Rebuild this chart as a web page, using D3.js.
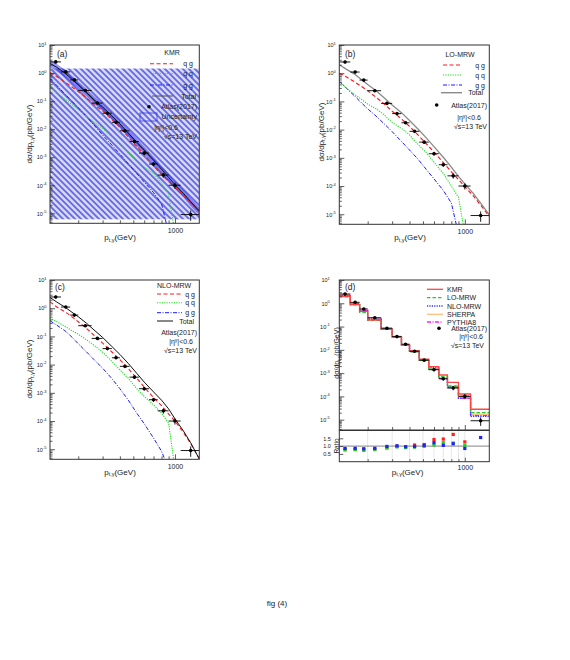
<!DOCTYPE html>
<html><head><meta charset="utf-8">
<script src="https://cdn.jsdelivr.net/npm/d3@7"></script>
<style>body{margin:0;background:#fff}svg{display:block}text{font-family:"Liberation Sans",Arial,sans-serif}</style>
</head><body><svg id="c" width="570" height="660"></svg>
<script>
// ---------------- data ----------------
const ptDomain = [125, 1500];
const binEdges = [125,150,175,200,250,300,350,400,470,550,650,750,900,1100,1500];
const atlasValues = [2.5,1.1,0.57,0.24,0.085,0.037,0.0175,0.0087,0.0036,0.0014,0.00057,0.00023,0.0001,0.000009];
const atlasErrRel = [0.12,0.1,0.1,0.1,0.1,0.1,0.1,0.1,0.12,0.14,0.16,0.2,0.25,0.4];
const ptGrid = [125,140,160,180,200,230,260,300,350,400,460,530,600,700,800,900,1000,1150,1300,1500];
// (a) KMR
const kmrQG = [1.05,0.75,0.48,0.32,0.22,0.13,0.075,0.045,0.022,0.0115,0.0052,0.0024,0.00122,0.0005,0.00024,0.000135,0.000085,0.000045,0.000025,0.000012];
const kmrQQ = [0.35,0.2,0.12,0.075,0.05,0.028,0.018,0.0105,0.0052,0.0028,0.0015,0.00075,0.00045,0.00026,0.00012,0.00005,0.000002,null,null,null];
const kmrGG = [0.65,0.36,0.18,0.1,0.058,0.028,0.014,0.0062,0.0027,0.0013,0.00058,0.00026,0.00013,0.000055,0.000022,0.000002,null,null,null,null];
const kmrTotal = [2.2,1.6,1.0,0.6,0.38,0.2,0.11,0.062,0.03,0.0155,0.0073,0.0034,0.0018,0.00078,0.00037,0.00019,0.000105,0.000052,0.000026,0.000012];
const kmrBandLo = [1.6,1.15,0.72,0.43,0.27,0.145,0.08,0.045,0.022,0.011,0.0052,0.0024,0.0013,0.00055,0.00026,0.000135,0.000074,0.000037,0.000018,0.0000085];
const kmrBandHi = [2.9,2.1,1.3,0.8,0.5,0.27,0.15,0.083,0.04,0.021,0.0098,0.0046,0.0024,0.00105,0.0005,0.00026,0.00014,0.00007,0.000035,0.000016];
const kmrHatchRange = [6.1e-6, 1.45];
// (b) LO-MRW
const loQG = [1.0,0.75,0.5,0.34,0.24,0.14,0.085,0.045,0.024,0.013,0.0065,0.0031,0.0016,0.00068,0.00032,0.00017,0.000095,0.000045,0.000021,0.0000085];
const loQQ = [0.55,0.3,0.18,0.12,0.08,0.055,0.035,0.018,0.011,0.0065,0.003,0.0015,0.0007,0.00028,0.0001,0.00004,0.000002,null,null,null];
const loGG = [0.5,0.3,0.16,0.09,0.055,0.03,0.017,0.0085,0.0038,0.0019,0.0009,0.00038,0.00018,0.00007,0.000025,0.000002,null,null,null,null];
const loTotal = [2.0,1.4,0.95,0.6,0.4,0.24,0.14,0.075,0.04,0.021,0.0105,0.005,0.0025,0.00105,0.00047,0.00022,0.00012,0.000055,0.000025,0.0000095];
// (c) NLO-MRW
const nloQG = [1.7,1.1,0.75,0.5,0.33,0.19,0.11,0.058,0.028,0.015,0.0072,0.0033,0.0016,0.00068,0.00035,0.00018,0.0001,0.00004,0.000016,0.0000045];
const nloQQ = [0.45,0.33,0.23,0.16,0.12,0.075,0.048,0.028,0.013,0.0065,0.0033,0.0014,0.00075,0.00038,0.00019,0.000085,0.000002,null,null,null];
const nloGG = [0.36,0.25,0.16,0.095,0.055,0.028,0.015,0.0075,0.0032,0.0014,0.00055,0.00019,0.00008,0.000025,0.0000085,0.000002,null,null,null,null];
const nloTotal = [2.4,1.65,1.1,0.72,0.5,0.29,0.17,0.092,0.044,0.023,0.011,0.0049,0.0024,0.00108,0.00055,0.00027,0.00012,0.000045,0.000017,0.0000045];
// (d) comparison histograms (per ATLAS bin)
const histKMR = [2.0,0.88,0.445,0.19,0.075,0.036,0.0163,0.0093,0.004,0.0019,0.00083,0.0004,0.000127,0.000028];
const histLO = [1.88,0.85,0.41,0.187,0.077,0.035,0.0158,0.0081,0.0035,0.0015,0.0007,0.00028,0.000105,0.00002];
const histNLO = [2.12,0.95,0.47,0.206,0.083,0.0377,0.0168,0.0085,0.0038,0.0017,0.0006,0.000265,0.000085,0.000014];
const histSHERPA = [2.3,1.0,0.5,0.215,0.08,0.036,0.0168,0.0086,0.0036,0.0015,0.00062,0.00026,0.00009,0.000017];
const histPYTHIA = [2.2,0.97,0.49,0.21,0.081,0.0365,0.0166,0.0084,0.0035,0.00145,0.00058,0.00024,0.000082,0.000015];
const ratioKMR = [0.8,0.8,0.78,0.8,0.88,0.98,0.93,1.07,1.1,1.42,1.45,1.75,1.27,null];
const ratioLO = [0.75,0.77,0.72,0.78,0.9,0.95,0.9,0.93,0.98,1.07,1.22,1.2,1.05,null];
const ratioNLO = [0.85,0.86,0.83,0.86,0.98,1.02,0.96,0.98,1.05,1.22,1.05,1.15,0.85,1.55];
const yDecades = [-5,-4,-3,-2,-1,0,1];
const xMinorTicks = [200,300,400,500,600,700,800,900];
const xMajorTicks = [1000];
const ratioTicks = [0.5,1.0,1.5];

// ---------------- drawing ----------------
const svg = d3.select("#c");
svg.append("rect").attr("width",570).attr("height",660).attr("fill","#fff");
const defs = svg.append("defs");
const pat = defs.append("pattern").attr("id","hatch").attr("patternUnits","userSpaceOnUse").attr("width",6).attr("height",6);
pat.append("rect").attr("width",6).attr("height",6).attr("fill","#d6d8f8");
pat.append("path").attr("d","M0,0L6,6M-1.5,4.5L1.5,7.5M4.5,-1.5L7.5,1.5").attr("stroke","#6468e6").attr("stroke-width",1.8);

const RED="#ff1a1a", GREEN="#22dd22", BLUE="#1a1aff";
const DASH={qg:"4,2.5", qq:"1.2,1.2", gg:"4,1.5,1,1.5"};

function makePanel(id,left,top,w,h,ymin){
  const x=d3.scaleLog().domain(ptDomain).range([left,left+w]);
  const y=d3.scaleLog().domain([ymin,10]).range([top+h,top]);
  defs.append("clipPath").attr("id","clip"+id).append("rect").attr("x",left).attr("y",top).attr("width",w).attr("height",h);
  const g=svg.append("g");
  const plot=g.append("g").attr("clip-path",`url(#clip${id})`);
  return {id,x,y,g,plot,left,top,w,h};
}
function frame(P,h){
  P.g.append("rect").attr("x",P.left).attr("y",P.top).attr("width",P.w).attr("height",h||P.h)
   .attr("fill","none").attr("stroke","#333").attr("stroke-width",1);
}
function styleAxis(ax){
  ax.attr("font-family",null).attr("font-size",null).attr("color","#333");
  ax.select(".domain").remove();
  ax.selectAll("line").attr("stroke-width",0.8);
}
function yAxis(P){
  const major=yDecades.map(e=>Math.pow(10,e)).filter(v=>v>=P.y.domain()[0]);
  const minors=[];
  for(let e=-6;e<1;e++) for(let m=2;m<10;m++){const v=m*Math.pow(10,e); if(v>=P.y.domain()[0]&&v<=10) minors.push(v);}
  const axm=P.g.append("g").attr("transform",`translate(${P.left},0)`)
    .call(d3.axisLeft(P.y).tickValues(minors).tickSizeInner(-2.5).tickSizeOuter(0).tickFormat(""));
  styleAxis(axm);
  const ax=P.g.append("g").attr("transform",`translate(${P.left},0)`)
    .call(d3.axisLeft(P.y).tickValues(major).tickSizeInner(-5).tickSizeOuter(0).tickPadding(P.labPad||3.5));
  styleAxis(ax);
  ax.selectAll("text").each(function(d){
    const t=d3.select(this); const e=Math.round(Math.log10(d));
    t.text(null).attr("font-size",5.5).attr("fill","#222");
    t.append("tspan").text("10");
    t.append("tspan").attr("font-size",4).attr("dy",-2.6).text(e);
  });
}
function xAxis(P,bottom,withLabel){
  const axm=P.g.append("g").attr("transform",`translate(0,${bottom})`)
    .call(d3.axisBottom(P.x).tickValues(xMinorTicks).tickSizeInner(-3).tickSizeOuter(0).tickFormat(""));
  styleAxis(axm);
  const ax=P.g.append("g").attr("transform",`translate(0,${bottom})`)
    .call(d3.axisBottom(P.x).tickValues(xMajorTicks).tickSizeInner(-5).tickSizeOuter(0).tickPadding(5)
      .tickFormat(withLabel===false?"":d3.format("d")));
  styleAxis(ax);
  ax.selectAll("text").attr("font-size",7).attr("fill","#222");
}
function yTitle(P,xb,yc,size){
  const t=P.g.append("text").attr("transform",`translate(${xb},${yc}) rotate(-90)`).attr("text-anchor","middle").attr("font-size",size||8).attr("fill","#222");
  t.append("tspan").text("dσ/dp");
  t.append("tspan").attr("font-size",(size||8)*0.69).attr("dy",1.8).text("t,γ");
  t.append("tspan").attr("dy",-1.8).text("(pb/GeV)");
}
function xTitle(P,xc,yb){
  const t=P.g.append("text").attr("x",xc).attr("y",yb).attr("text-anchor","middle").attr("font-size",8).attr("fill","#222");
  t.append("tspan").text("p");
  t.append("tspan").attr("font-size",5.5).attr("dy",1.8).text("t,γ");
  t.append("tspan").attr("dy",-1.8).text("(GeV)");
}
function curve(P,vals,color,dash,width){
  const pts=ptGrid.map((p,i)=>[p,vals[i]]).filter(d=>d[1]!=null);
  const line=d3.line().x(d=>P.x(d[0])).y(d=>P.y(d[1]));
  P.plot.append("path").attr("d",line(pts)).attr("fill","none").attr("stroke",color)
    .attr("stroke-width",width).attr("stroke-dasharray",dash||null);
}
function hist(P,vals,color,dash,width){
  const pts=vals.map((v,i)=>[binEdges[i],v]); pts.push([binEdges[binEdges.length-1],vals[vals.length-1]]);
  const line=d3.line().x(d=>P.x(d[0])).y(d=>P.y(d[1])).curve(d3.curveStepAfter);
  P.plot.append("path").attr("d",line(pts)).attr("fill","none").attr("stroke",color)
    .attr("stroke-width",width).attr("stroke-dasharray",dash||null);
}
function atlas(P){
  const idx=d3.range(atlasValues.length);
  const gg=P.plot.append("g").attr("stroke","#000").attr("stroke-width",0.9);
  gg.selectAll("line.h").data(idx).join("line").attr("class","h")
    .attr("x1",i=>P.x(binEdges[i])).attr("x2",i=>P.x(binEdges[i+1]))
    .attr("y1",i=>P.y(atlasValues[i])).attr("y2",i=>P.y(atlasValues[i]));
  gg.selectAll("line.v").data(idx).join("line").attr("class","v")
    .attr("x1",i=>P.x((binEdges[i]+binEdges[i+1])/2)).attr("x2",i=>P.x((binEdges[i]+binEdges[i+1])/2))
    .attr("y1",i=>P.y(atlasValues[i]*(1+atlasErrRel[i]))).attr("y2",i=>P.y(atlasValues[i]*(1-atlasErrRel[i])));
  P.plot.selectAll("circle.d").data(idx).join("circle").attr("class","d")
    .attr("cx",i=>P.x((binEdges[i]+binEdges[i+1])/2)).attr("cy",i=>P.y(atlasValues[i])).attr("r",1.8).attr("fill","#000");
}
function txt(P,x,y,s,anchor,size){
  return P.g.append("text").attr("x",x).attr("y",y).attr("text-anchor",anchor||"start").attr("font-size",size||7).attr("fill","#222").text(s);
}
function etaText(P,x,y,anchor){
  const t=P.g.append("text").attr("x",x).attr("y",y).attr("text-anchor",anchor).attr("font-size",7).attr("fill","#222");
  t.append("tspan").text("|η");
  t.append("tspan").attr("font-size",5).attr("dy",-2.5).text("γ");
  t.append("tspan").attr("dy",2.5).text("|<0.6");
}
function legLine(P,x1,x2,y,color,dash,width){
  P.g.append("line").attr("x1",x1).attr("x2",x2).attr("y1",y).attr("y2",y).attr("stroke",color)
    .attr("stroke-width",width||1).attr("stroke-dasharray",dash||null);
}

// ---------- panel (a) ----------
const A=makePanel("a",50,45,149.3,178.3,4.4e-6);
A.plot.append("rect").attr("x",A.left).attr("width",A.w)
  .attr("y",A.y(kmrHatchRange[1])).attr("height",A.y(kmrHatchRange[0])-A.y(kmrHatchRange[1])).attr("fill","url(#hatch)");
const bandArea=d3.area().x((d,i)=>A.x(ptGrid[i])).y0((d,i)=>A.y(kmrBandLo[i])).y1((d,i)=>A.y(kmrBandHi[i]));
A.plot.append("path").attr("d",bandArea(ptGrid)).attr("fill","#2b2bf0").attr("opacity",0.5);
curve(A,kmrGG,BLUE,DASH.gg,1);
curve(A,kmrQQ,GREEN,DASH.qq,1);
curve(A,kmrQG,RED,DASH.qg,1.1);
curve(A,kmrTotal,"#111",null,1);
atlas(A);
frame(A); yAxis(A); xAxis(A,A.top+A.h);
yTitle(A,32,134); xTitle(A,120,240);
txt(A,57,57,"(a)","start",8.5);
txt(A,172,55,"KMR","middle");
legLine(A,150,173,63.7,RED,DASH.qg,1.1); txt(A,193,66.2,"q g","end");
legLine(A,150,173,73.5,GREEN,DASH.qq); txt(A,193,76,"q q","end");
legLine(A,150,173,85,BLUE,DASH.gg); txt(A,193,87.5,"g g","end");
legLine(A,152,173,96,"#555",null,1); txt(A,196,98.5,"Total","end");
A.g.append("circle").attr("cx",149).attr("cy",106.7).attr("r",1.8).attr("fill","#000");
txt(A,197,109.2,"Atlas(2017)","end");
A.g.append("rect").attr("x",140).attr("y",113).attr("width",17).attr("height",8).attr("fill","url(#hatch)").attr("stroke","#3a3ae0").attr("stroke-width",0.8);
txt(A,197,119.2,"Uncertainty","end");
etaText(A,178,130.2,"end");
txt(A,197,139.2,"√s=13 TeV","end");

// ---------- panel (b) ----------
const B=makePanel("b",339.3,45,150,179.3,4.4e-6);
curve(B,loGG,BLUE,DASH.gg,1);
curve(B,loQQ,GREEN,DASH.qq,1.1);
curve(B,loQG,RED,DASH.qg,1.2);
curve(B,loTotal,"#8a8a8a",null,1.3);
atlas(B);
frame(B); yAxis(B); xAxis(B,B.top+B.h);
yTitle(B,323.5,132); xTitle(B,410,240);
txt(B,345,57,"(b)","start",8.5);
txt(B,460,56.5,"LO-MRW","middle");
legLine(B,443,462,65,RED,DASH.qg,1.2); txt(B,485,67.5,"q g","end");
legLine(B,443,462,75,GREEN,DASH.qq,1.1); txt(B,485,77.5,"q q","end");
legLine(B,443,462,85,BLUE,DASH.gg); txt(B,485,87.5,"g g","end");
legLine(B,441,462,92.7,"#8a8a8a",null,1.4); txt(B,483,95.2,"Total","end");
B.g.append("circle").attr("cx",436.7).attr("cy",105).attr("r",1.8).attr("fill","#000");
txt(B,487,107.5,"Atlas(2017)","end");
etaText(B,481,120,"end");
txt(B,487,129.2,"√s=13 TeV","end");

// ---------- panel (c) ----------
const C=makePanel("c",50,280,149.3,179.3,4.4e-6);
curve(C,nloGG,BLUE,DASH.gg,1);
curve(C,nloQQ,GREEN,DASH.qq,1.1);
curve(C,nloQG,RED,DASH.qg,1.1);
curve(C,nloTotal,"#111",null,1);
atlas(C);
frame(C); yAxis(C); xAxis(C,C.top+C.h);
yTitle(C,32,369); xTitle(C,120,474.5);
txt(C,55,289.5,"(c)","start",8.5);
txt(C,157,287.5,"NLO-MRW","start");
legLine(C,157,182,294,RED,DASH.qg,1.1); txt(C,195,296.5,"q g","end");
legLine(C,157,182,302.7,GREEN,DASH.qq,1.1); txt(C,195,305.2,"q q","end");
legLine(C,157,182,312.7,BLUE,DASH.gg); txt(C,195,315.2,"g g","end");
legLine(C,157,173,321,"#111",null,1); txt(C,194,323.5,"Total","end");
txt(C,197,335,"Atlas(2017)","end");
etaText(C,193,344,"end");
txt(C,197,352.5,"√s=13 TeV","end");

// ---------- panel (d) ----------
const D=makePanel("d",339.3,280,150,150,3.6e-6);
D.labPad=9.5;
hist(D,histSHERPA,"#ffc080",null,1.4);
hist(D,histPYTHIA,"#ff22ff","4,1.5,1,1.5",1.3);
hist(D,histNLO,"#3333ff","1.2,1.2",1.3);
hist(D,histLO,"#22cc22","3.5,2",1.3);
hist(D,histKMR,"#ff4444",null,1.3);
atlas(D);
frame(D); yAxis(D); xAxis(D,D.top+D.h,false);
yTitle(D,338.8,353,7);
txt(D,345,289.5,"(d)","start",8.5);
const dLeg=[["KMR","#ff4444",null,289.3],["LO-MRW","#22cc22","3.5,2",297.7],["NLO-MRW","#3333ff","1.2,1.2",306],["SHERPA","#ffc080",null,314.3],["PYTHIA8","#ff22ff","4,1.5,1,1.5",322]];
dLeg.forEach(r=>{legLine(D,427,443,r[3],r[1],r[2],1.3); txt(D,447,r[3]+2.5,r[0],"start");});
D.g.append("circle").attr("cx",439).attr("cy",328.3).attr("r",1.8).attr("fill","#000");
txt(D,487,330.8,"Atlas(2017)","end");
etaText(D,483,339.2,"end");
txt(D,484,348.2,"√s=13 TeV","end");

// ratio sub-panel
const R={left:339.3,top:430.5,w:150,h:31.2};
const yR=d3.scaleLinear().domain([0,2]).range([R.top+R.h,R.top]);
const rg=svg.append("g");
defs.append("clipPath").attr("id","clipr").append("rect").attr("x",R.left).attr("y",R.top).attr("width",R.w).attr("height",R.h);
const rplot=rg.append("g").attr("clip-path","url(#clipr)");
rplot.selectAll("line.grid").data(xMinorTicks.concat(xMajorTicks)).join("line").attr("class","grid")
  .attr("x1",d=>D.x(d)).attr("x2",d=>D.x(d)).attr("y1",R.top).attr("y2",R.top+R.h)
  .attr("stroke","#bbb").attr("stroke-width",0.7).attr("stroke-dasharray","1,1");
rplot.append("line").attr("x1",R.left).attr("x2",R.left+R.w).attr("y1",yR(1)).attr("y2",yR(1)).attr("stroke","#777").attr("stroke-width",0.9);
[[ratioKMR,"#ff2020"],[ratioLO,"#20d020"],[ratioNLO,"#2020ff"]].forEach(s=>{
  const idx=d3.range(s[0].length).filter(i=>s[0][i]!=null);
  rplot.selectAll(null).data(idx).join("rect")
    .attr("x",i=>D.x((binEdges[i]+binEdges[i+1])/2)-1.6).attr("y",i=>yR(s[0][i])-1.6)
    .attr("width",3.2).attr("height",3.2).attr("fill",s[1]);
});
rg.append("rect").attr("x",R.left).attr("y",R.top).attr("width",R.w).attr("height",R.h).attr("fill","none").attr("stroke","#333").attr("stroke-width",1);
const rax=rg.append("g").attr("transform",`translate(${R.left},0)`)
  .call(d3.axisLeft(yR).tickValues(ratioTicks).tickSizeInner(-4).tickSizeOuter(0).tickPadding(8.5).tickFormat(d3.format(".1f")));
styleAxis(rax); rax.selectAll("text").attr("font-size",5.5).attr("fill","#222");
const rxm=rg.append("g").attr("transform",`translate(0,${R.top+R.h})`)
  .call(d3.axisBottom(D.x).tickValues(xMinorTicks).tickSizeInner(-2.5).tickSizeOuter(0).tickFormat(""));
styleAxis(rxm);
const rx=rg.append("g").attr("transform",`translate(0,${R.top+R.h})`)
  .call(d3.axisBottom(D.x).tickValues(xMajorTicks).tickSizeInner(-4).tickSizeOuter(0).tickPadding(3).tickFormat(d3.format("d")));
styleAxis(rx); rx.selectAll("text").attr("font-size",7).attr("fill","#222");
rg.append("text").attr("transform",`translate(338.8,446) rotate(-90)`).attr("text-anchor","middle").attr("font-size",6.5).attr("fill","#222").text("Ratio");
xTitle(D,407.5,474.5);

// caption
svg.append("text").attr("x",277).attr("y",606).attr("text-anchor","middle").attr("font-size",8).attr("fill","#222").text("fig (4)");
</script></body></html>
